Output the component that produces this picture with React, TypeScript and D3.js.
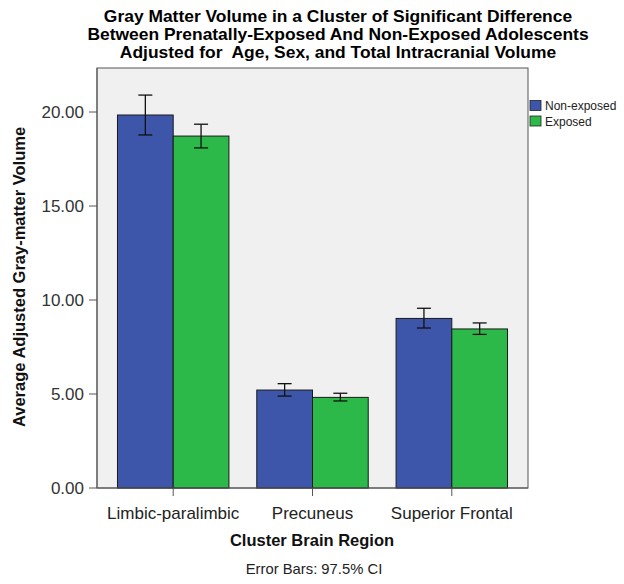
import React from "react";
import * as d3 from "d3";

const categories = ["Limbic-paralimbic", "Precuneus", "Superior Frontal"];
const seriesNames = ["Non-exposed", "Exposed"];
const nonExposedMean = [19.84, 5.21, 9.02];
const nonExposedLow = [18.78, 4.89, 8.51];
const nonExposedHigh = [20.9, 5.55, 9.56];
const exposedMean = [18.72, 4.82, 8.46];
const exposedLow = [18.09, 4.63, 8.17];
const exposedHigh = [19.35, 5.04, 8.78];
const yTicks = [0, 5, 10, 15, 20];
const titleLines = [
  "Gray Matter Volume in a Cluster of Significant Difference",
  "Between Prenatally-Exposed And Non-Exposed Adolescents",
  "Adjusted for  Age, Sex, and Total Intracranial Volume",
];
const colors = ["#3d56aa", "#2db84a"];

export default function App() {
  const W = 624, H = 584;
  const left = 97, right = 528, top = 68, bottom = 488;
  const x = d3.scaleBand<string>().domain(categories).range([left, right]).paddingInner(0.2).paddingOuter(0.147);
  const xs = d3.scaleBand<string>().domain(seriesNames).range([0, x.bandwidth()]);
  const y = d3.scaleLinear().domain([0, 20]).range([bottom, bottom - 20 * 18.8]);
  const means = [nonExposedMean, exposedMean];
  const lows = [nonExposedLow, exposedLow];
  const highs = [nonExposedHigh, exposedHigh];
  const font = "Liberation Sans, Arial, sans-serif";
  const cap = 7;
  return (
    <svg width={W} height={H} style={{ position: "absolute", left: 0, top: 0, background: "#fff" }} fontFamily={font}>
      {titleLines.map((t, i) => (
        <text key={i} transform={`translate(338,${21.5 + i * 18}) scale(1.09,1)`} textAnchor="middle" fontSize={16} fontWeight="bold" fill="#000" style={{ whiteSpace: "pre" }}>{t}</text>
      ))}
      <rect x={left} y={top} width={right - left} height={bottom - top} fill="#f0f0f0" stroke="#555" strokeWidth={1} />
      {seriesNames.map((s, si) =>
        categories.map((c, ci) => {
          const bx = (x(c) ?? 0) + (xs(s) ?? 0);
          const bw = xs.bandwidth();
          const cx = bx + bw / 2;
          return (
            <g key={s + c}>
              <rect x={bx} y={y(means[si][ci])} width={bw} height={bottom - y(means[si][ci])} fill={colors[si]} stroke="#1a1a1a" strokeWidth={1} />
              <line x1={cx} x2={cx} y1={y(lows[si][ci])} y2={y(highs[si][ci])} stroke="#111" strokeWidth={1.3} />
              <line x1={cx - cap} x2={cx + cap} y1={y(lows[si][ci])} y2={y(lows[si][ci])} stroke="#111" strokeWidth={1.3} />
              <line x1={cx - cap} x2={cx + cap} y1={y(highs[si][ci])} y2={y(highs[si][ci])} stroke="#111" strokeWidth={1.3} />
            </g>
          );
        })
      )}
      <line x1={left} x2={right} y1={bottom} y2={bottom} stroke="#555" />
      <line x1={left} x2={left} y1={top} y2={bottom} stroke="#555" />
      {yTicks.map((t) => (
        <g key={t}>
          <line x1={left - 8} x2={left} y1={y(t)} y2={y(t)} stroke="#555" />
          <text x={left - 13} y={y(t)} dy="0.36em" textAnchor="end" fontSize={17} fill="#333">{t.toFixed(2)}</text>
        </g>
      ))}
      {categories.map((c) => {
        const cx = (x(c) ?? 0) + x.bandwidth() / 2;
        return (
          <g key={c}>
            <line x1={cx} x2={cx} y1={bottom} y2={bottom + 8} stroke="#555" />
            <text x={cx} y={519} textAnchor="middle" fontSize={17} fill="#222">{c}</text>
          </g>
        );
      })}
      <text x={312} y={546} textAnchor="middle" fontSize={16.5} fontWeight="bold" fill="#111">Cluster Brain Region</text>
      <text x={314} y={574} textAnchor="middle" fontSize={14.8} fill="#222">Error Bars: 97.5% CI</text>
      <text transform={`translate(25,${277}) rotate(-90)`} textAnchor="middle" fontSize={16.5} fontWeight="bold" fill="#111">Average Adjusted Gray-matter Volume</text>
      {seriesNames.map((s, i) => (
        <g key={s}>
          <rect x={530} y={100.5 + i * 15.5} width={11} height={10} fill={colors[i]} stroke="#222" strokeWidth={0.8} />
          <text x={545} y={110 + i * 15.5} fontSize={12} fill="#222">{s}</text>
        </g>
      ))}
    </svg>
  );
}
